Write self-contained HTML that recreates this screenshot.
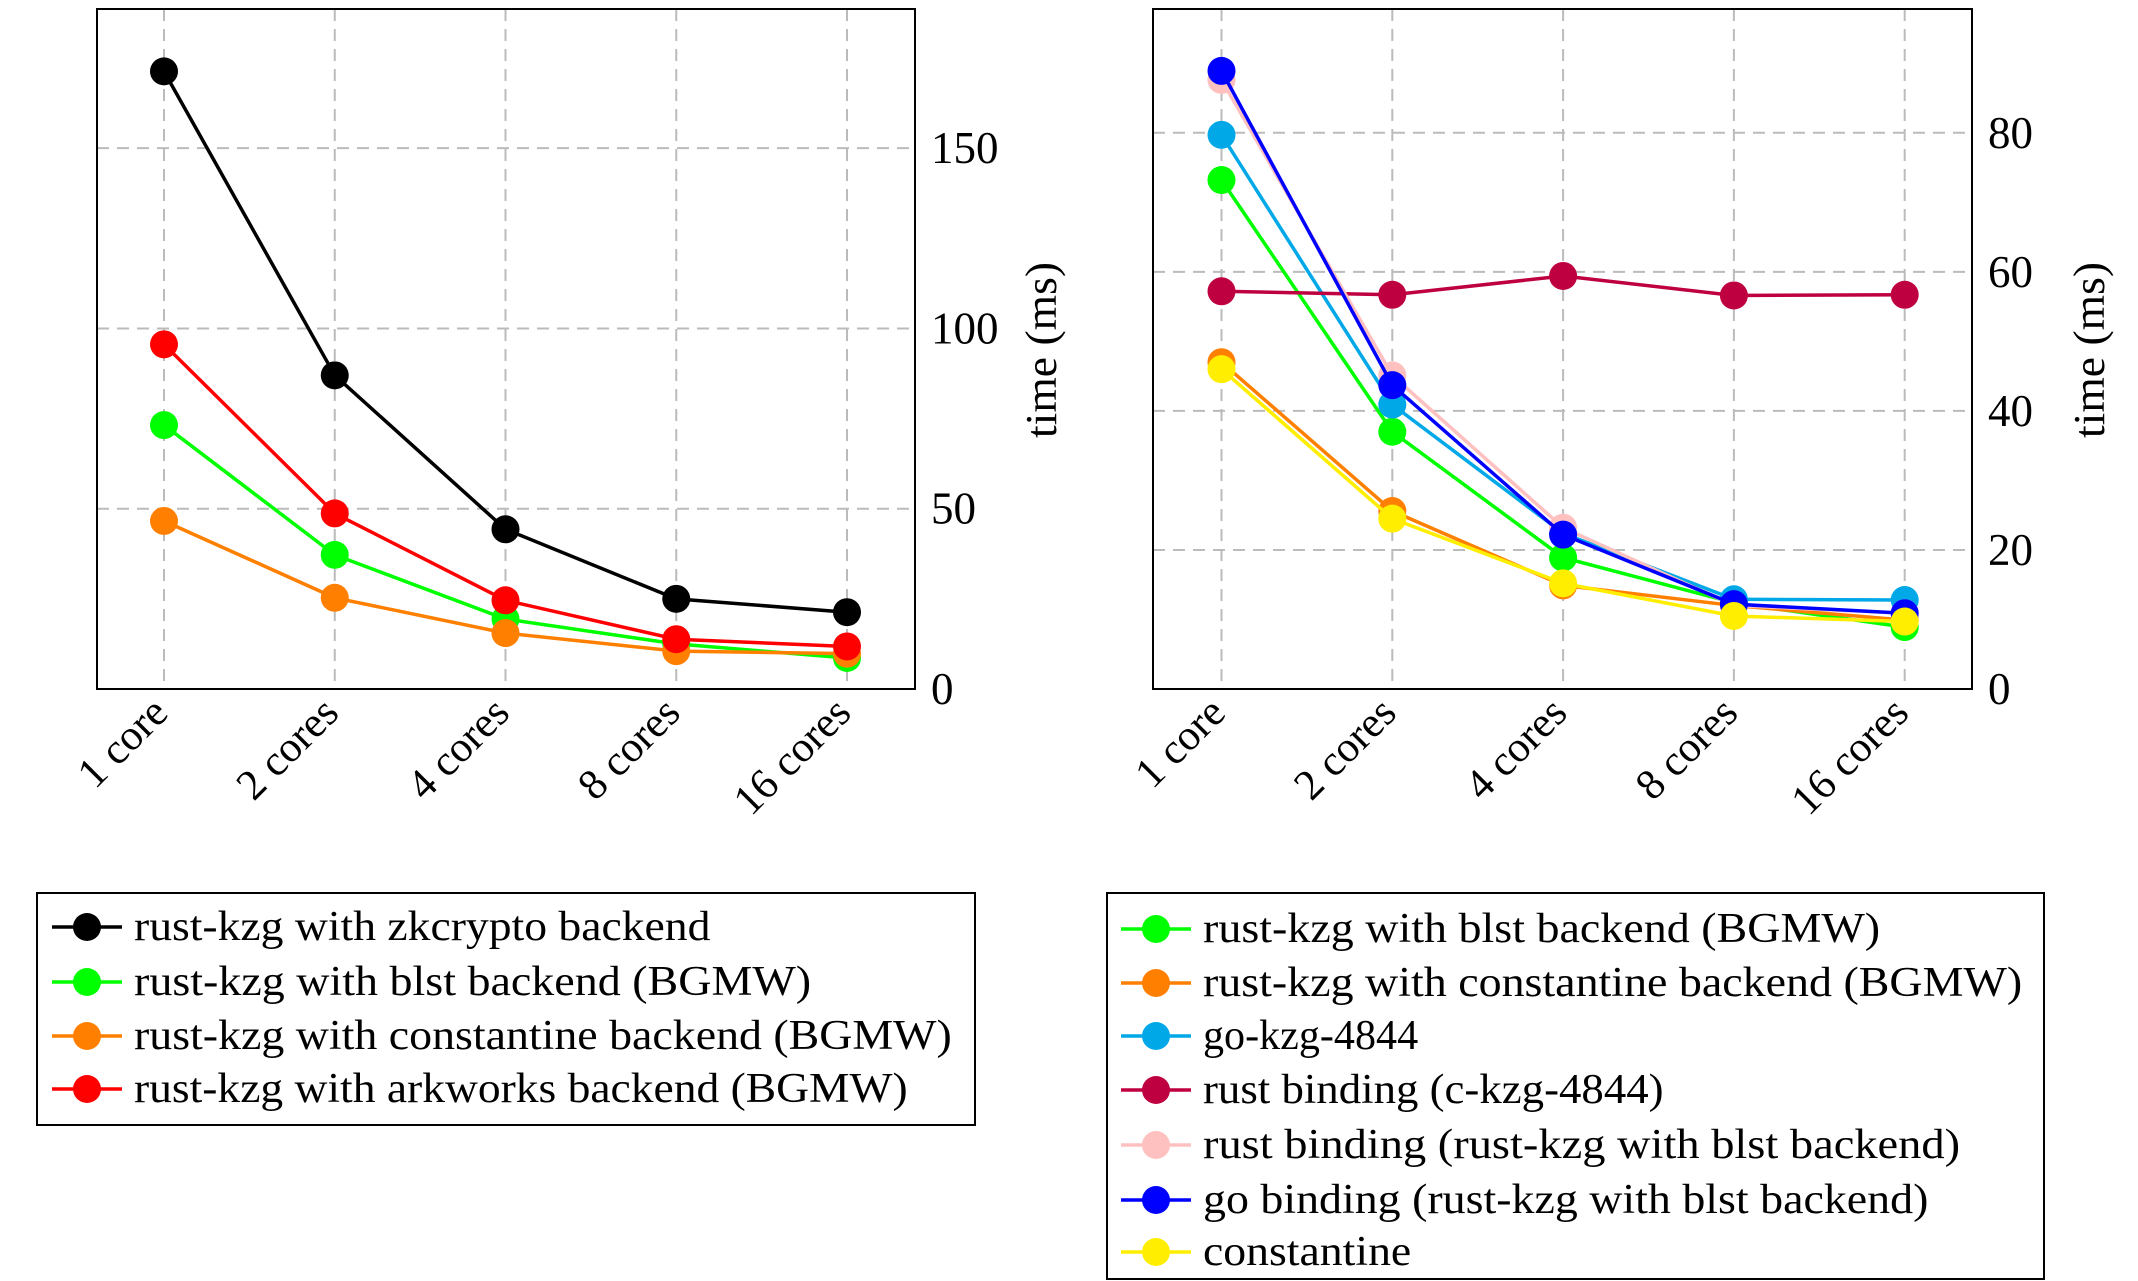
<!DOCTYPE html>
<html><head><meta charset="utf-8"><style>
html,body{margin:0;padding:0;background:#fff;}
svg{display:block;font-family:"Liberation Serif",serif;}
</style></head><body>
<svg id="s" width="2138" height="1281" viewBox="0 0 2138 1281" xmlns="http://www.w3.org/2000/svg"></svg>
<script>
const categories=["1 core","2 cores","4 cores","8 cores","16 cores"];
const leftTicks=[0,50,100,150];
const rightTicks=[0,20,40,60,80];
const leftNames=["rust-kzg with zkcrypto backend","rust-kzg with blst backend (BGMW)","rust-kzg with constantine backend (BGMW)","rust-kzg with arkworks backend (BGMW)"];
const leftColors=["#000000","#00ff00","#ff8000","#ff0000"];
const leftZk=[171.3,87,44.3,25,21.3];
const leftBlst=[73.2,37.2,19.4,12.5,8.6];
const leftConst=[46.6,25.3,15.5,10.5,9.8];
const leftArk=[95.6,48.7,24.6,13.8,11.8];
const rightNames=["rust-kzg with blst backend (BGMW)","rust-kzg with constantine backend (BGMW)","go-kzg-4844","rust binding (c-kzg-4844)","rust binding (rust-kzg with blst backend)","go binding (rust-kzg with blst backend)","constantine"];
const rightColors=["#00ff00","#ff8000","#00a8e8","#bf0040","#ffc0c0","#0000ff","#ffee00"];
const rBlst=[73.2,37.0,18.9,12.4,8.9];
const rConst=[47.0,25.6,14.9,12.0,9.9];
const rGo=[79.7,40.9,22.4,12.9,12.8];
const rCkzg=[57.2,56.7,59.4,56.6,56.7];
const rRustB=[87.6,45.1,23.2,12.0,10.9];
const rGoB=[88.9,43.7,22.2,12.2,10.9];
const rConstantine=[46.0,24.5,15.2,10.5,9.7];

const NS="http://www.w3.org/2000/svg";
const svg=document.getElementById('s');
function mk(tag,attrs,parent){const e=document.createElementNS(NS,tag);for(const k in attrs)e.setAttribute(k,attrs[k]);(parent||svg).appendChild(e);return e;}

function drawChart(name,x0,x1,y0,y1,ymax,ticks,series,colors,firstX,dx,titleX){
  const g=mk('g',{});
  
  
  const xs=i=>firstX+i*dx;
  const ys=v=>y1-(v/ymax)*(y1-y0);
  categories.forEach((c,i)=>{
    const l=mk('line',{x1:xs(i),x2:xs(i),y1:y0,y2:y1,stroke:'#bbb','stroke-width':2,'stroke-dasharray':'12,8'},g);
    
    
    const t=mk('text',{x:xs(i)+6,y:y1+26,'font-size':43,'text-anchor':'end',transform:`rotate(-45 ${xs(i)+6} ${y1+26})`},g);
    
    
    t.textContent=c;
  });
  ticks.forEach(v=>{
    if(v>0){
      const l=mk('line',{x1:x0,x2:x1,y1:ys(v),y2:ys(v),stroke:'#bbb','stroke-width':2,'stroke-dasharray':'12,8'},g);
      
      
    }
    const t=mk('text',{x:x1+16,y:ys(v)+15,'font-size':45},g);
    
    
    t.textContent=v;
  });
  const f=mk('rect',{x:x0,y:y0,width:x1-x0,height:y1-y0,fill:'none',stroke:'#000','stroke-width':2},g);
  
  
  const lab=mk('text',{x:0,y:0,'font-size':44,'text-anchor':'middle',textLength:176,lengthAdjust:'spacingAndGlyphs',transform:`translate(${titleX} 350) rotate(-90)`},g);
  
  
  lab.textContent='time (ms)';
  series.forEach((s,k)=>{
    const pts=s.map((v,i)=>xs(i)+','+ys(v)).join(' ');
    const pl=mk('polyline',{points:pts,fill:'none',stroke:colors[k],'stroke-width':3.5},g);
    
    
    s.forEach((v,i)=>{
      const c=mk('circle',{cx:xs(i),cy:ys(v),r:14,fill:colors[k]},g);
      
      
    });
  });
}
drawChart('left-chart',97,915,9,689,188.6,leftTicks,[leftZk,leftBlst,leftConst,leftArk],leftColors,164,170.75,1056);
drawChart('right-chart',1153,1972,9,689,97.8,rightTicks,[rBlst,rConst,rGo,rCkzg,rRustB,rGoB,rConstantine],rightColors,1221.5,170.8,2104);

function legend(name,x,y,w,h,names,widths,colors,ys,mx,tx){
  const g=mk('g',{});
  
  
  const r=mk('rect',{x:x,y:y,width:w,height:h,fill:'#fff',stroke:'#000','stroke-width':2},g);
  
  
  names.forEach((n,i)=>{
    const e=mk('g',{},g);
    
    
    mk('line',{x1:mx-35,x2:mx+35,y1:ys[i],y2:ys[i],stroke:colors[i],'stroke-width':3.5},e);
    mk('circle',{cx:mx,cy:ys[i],r:14,fill:colors[i]},e);
    const t=mk('text',{x:tx,y:ys[i]+13,'font-size':42,textLength:widths[i]*1.379,lengthAdjust:'spacingAndGlyphs'},e);
    t.textContent=n;
  });
}
legend('left-legend',37,893,938,232,leftNames,[418,491,593,561],leftColors,[927,982,1036,1089],87,134);
legend('right-legend',1107,893,937,386,rightNames,[491,594,156,334,549,526,151],rightColors,[929,983,1036,1090,1145,1200,1252],1156,1203);
</script>
</body></html>
